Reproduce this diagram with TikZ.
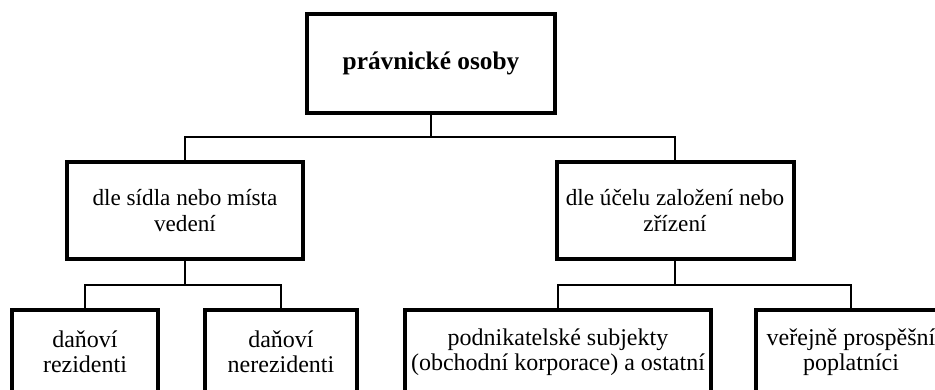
\documentclass[tikz,border=0pt]{standalone}
\usepackage{fontspec}
\setmainfont{Liberation Serif}
\usetikzlibrary{positioning}

\tikzset{
    box/.style={draw, line width=3pt, inner sep=0pt, align=center,
        font=\fontsize{17.4}{19}\selectfont},
    leaf/.style={box, minimum height=63pt, font=\fontsize{18}{19}\selectfont},
    link/.style={line width=1.9pt}
}

\begin{document}
\begin{tikzpicture}[x=0.75pt,y=-0.75pt]
    \clip (0,0) rectangle (935,389);
    \node[box, minimum width=186pt, minimum height=74.25pt,
        font=\fontsize{19}{21}\selectfont\bfseries] (osoby) at (431,63.5)
        {právnické osoby};
    \node[box, minimum width=177pt, minimum height=72.75pt] (sidlo) at (185,210.5)
        {dle sídla nebo místa\\vedení};
    \node[box, minimum width=177.75pt, minimum height=72.75pt] (ucel) at (675,210.5)
        {dle účelu založení nebo\\zřízení};
    \node[leaf, minimum width=109.5pt] (rez) at (85,352)
        {daňoví\\rezidenti};
    \node[leaf, minimum width=114pt] (nerez) at (281,352)
        {daňoví\\nerezidenti};
    \node[leaf, minimum width=229.5pt] (podnik) at (558,352)
        {podnikatelské subjekty\\(obchodní korporace) a ostatní};
    \node[leaf, minimum width=142.5pt] (verej) at (851,352)
        {veřejně prospěšní\\poplatníci};
% connectors
    \coordinate (bus) at (431,137);
    \coordinate (busl) at (185,285);
    \coordinate (busr) at (675,285);
    \draw[link] (osoby.south) -- (bus);
    \draw[link] (bus) -| (sidlo.north);
    \draw[link] (bus) -| (ucel.north);
    \draw[link] (sidlo.south) -- (busl);
    \draw[link] (busl) -| (rez.north);
    \draw[link] (busl) -| (nerez.north);
    \draw[link] (ucel.south) -- (busr);
    \draw[link] (busr) -| (podnik.north);
    \draw[link] (busr) -| (verej.north);
\end{tikzpicture}
\end{document}
